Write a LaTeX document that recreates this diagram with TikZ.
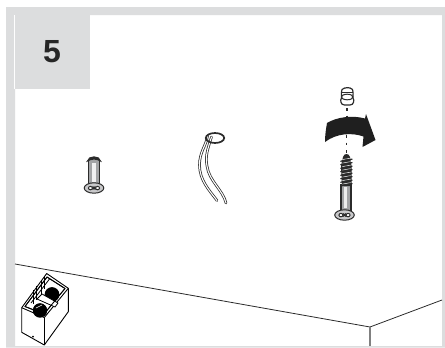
\documentclass[tikz,border=0pt]{standalone}
\usepackage{fontspec}
\setmainfont{Liberation Sans}
\definecolor{panel}{HTML}{DCDDDE}
\definecolor{line}{HTML}{2B2B2B}
\definecolor{steel}{HTML}{A3A4A6}
\tikzset{
  ink/.style={draw=line,line width=0.8pt,line join=round},
  wall/.style={draw=line,line width=0.8pt},
  wire/.style={line cap=round,line join=round,draw=line,line width=0.75pt,double=white,double distance=1.1pt},
  dashline/.style={draw=line,line width=1.2pt,dash pattern=on 2.6pt off 5pt},
  boxline/.style={draw=black,line width=0.9pt,line join=round},
  screwhead/.pic={
    \draw[ink,fill=steel!60,line width=1pt] (0,0) ellipse (9.8pt and 5.2pt);
    \draw[ink,fill=white,line width=1pt] (-3.6pt,-0.1pt) ellipse (2pt and 1.7pt);
    \draw[ink,fill=white,line width=1pt] (3.6pt,-0.1pt) ellipse (2pt and 1.7pt);
    \draw[draw=line,line width=1.2pt] (-1.5pt,1.4pt) -- (1.5pt,-1.4pt) (-1.5pt,-1.4pt) -- (1.5pt,1.4pt);
  }
}
\begin{document}
\begin{tikzpicture}[x=1pt,y=-1pt]
\useasboundingbox (0,0) rectangle (445,348);
\fill[white] (0,0) rectangle (445,348);
% frame
\fill[panel,even odd rule] (6,7) rectangle (445,347.5) (15,15) rectangle (442,346);
\fill[panel] (6,7) rectangle (90,89);
\draw[white!96!panel,line width=0.6pt] (14.5,15) -- (14.5,89);
\node[font=\bfseries,text=black!85,inner sep=0pt] (num) at (52,51.5) {\fontsize{32}{32}\selectfont 5};
% room lines
\coordinate (wl) at (15,264);
\coordinate (corner) at (370,327);
\coordinate (wr) at (442,300);
\coordinate (fl) at (370,346);
\draw[wall] (wl) -- (corner) -- (wr);
\draw[draw=line!60,line width=1.2pt] (corner) -- (fl);
% lamp box
\coordinate (a) at (46.7,273.5);
\coordinate (b) at (68.3,288.3);
\coordinate (c) at (44.3,317.5);
\coordinate (d) at (21.7,307.7);
\coordinate (e) at (21.7,332.3);
\coordinate (f) at (44.3,345);
\coordinate (g) at (68.3,311.7);
\draw[boxline,fill=white] (a) -- (b) -- (g) -- (f) -- (e) -- (d) -- cycle;
\draw[boxline] (d) -- (c) -- (b);
\draw[boxline] (c) -- (f);
% rim inner
\draw[boxline,line width=0.8pt] (47,277) -- (65,288.5) -- (44,314) -- (25,306.5) -- cycle;
% left slats
\draw[boxline,line width=0.8pt] (49.5,279) -- (31,303);
\draw[boxline,line width=0.8pt] (33,290) -- (33,304) (36.5,285.5) -- (36.5,300) (41,279.5) -- (41,294) (44.5,276) -- (44.5,289);
% lamps
\fill[black] (52,294.5) circle (7.4);
\fill[black] (40,310.5) circle (7.2);
% divider
\draw[boxline,line width=0.8pt,fill=white] (37,299) -- (42,294) -- (58,303) -- (55,307) -- cycle;
\fill[black] (40,310.5) ++(-6.5,-3) arc (205:340:7.1) -- cycle;
\draw[white,line width=0.6pt] (36,308) -- (42,305);
\draw[boxline] (47,277) -- (65,288.5) -- (44,314) -- (25,306.5) -- cycle;
\fill[black] (33,336.5) circle (1);
% anchor 1
\draw[ink,fill=steel,line width=1.1pt] (88.5,160) -- (88.5,184) -- (99.5,184) -- (99.5,160);
\fill[white!85!steel] (92,163) rectangle (96,182);
\draw[line,fill=line,line width=1pt] (87.5,161) .. controls (88,155.5) and (100,155.5) .. (100.5,161) .. controls (97,158.5) and (91,158.5) .. (87.5,161) -- cycle;
\pic at (94,188) {screwhead};
% anchor with wires
\draw[wire] (207.5,136) .. controls (206,146) and (199.5,152) .. (199.5,165) .. controls (199.5,180) and (209,190) .. (217,200.5);
\draw[wire] (211.5,137) .. controls (208,148) and (205,156) .. (207,166) .. controls (209,181) and (223,190) .. (226,203);
\draw[draw=line,line width=1.7pt] (215,138) ellipse (9.2 and 5);
% dashes
\coordinate (da) at (347,108);
\coordinate (db) at (347,117);
\coordinate (dc) at (346.5,135);
\coordinate (dd) at (346.5,153);
\draw[dashline] (da) -- (db);
% arrow
\fill[black!88] (325,142) .. controls (325,135) and (326,129) .. (327,123)
  .. controls (337,117) and (352,115) .. (365,118.5) -- (366,114) -- (375.5,140) -- (362.5,147) -- (363.5,136.5)
  .. controls (352,132.5) and (337,133) .. (325,142) -- cycle;
\draw[dashline] (dc) -- (dd);
% cap
\draw[ink,fill=white,line width=1.2pt] (341.5,98) .. controls (341.5,94) and (341,91) .. (342,89.5) .. controls (345,87) and (350,87) .. (352.5,89.5) .. controls (353.5,91) and (353,94) .. (353,98) .. controls (354.5,100) and (354,105) .. (350,105) -- (344.5,105) .. controls (340.5,105) and (340,100) .. (341.5,98) -- cycle;
\draw[ink,line width=1pt] (342,92) -- (352.5,92);
\draw[ink,fill=white,line width=1pt] (347.2,97) ellipse (5.8 and 2.8);
% long screw
\draw[ink,fill=steel,line width=1.1pt] (341,184) -- (341,211) -- (351,211) -- (351,184);
\fill[white!80!steel] (344,187) rectangle (347,208);
\fill[line] (342,186) -- (341,166) -- (343,157) .. controls (344,153) and (349,153) .. (350,157) -- (351.5,166) -- (351.5,186) -- cycle;
\foreach \y in {159,162.5,...,185}{
  \draw[draw=white!70!steel,line width=0.6pt,line cap=round] (342.5,\y+0.6) -- (350.5,\y-0.8);
  \draw[draw=line,line width=1.3pt,line cap=round] (340.8,\y+2.2) -- (352,\y+0.2);
}
\pic at (344.5,215) {screwhead};
\end{tikzpicture}
\end{document}
